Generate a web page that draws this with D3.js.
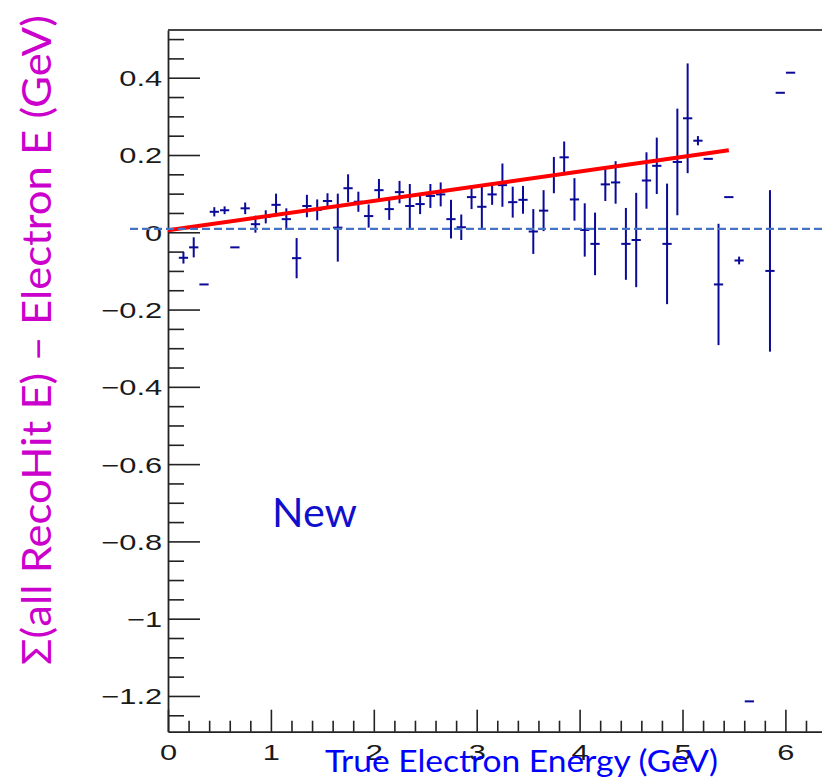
<!DOCTYPE html>
<html>
<head>
<meta charset="utf-8">
<script src="https://cdn.jsdelivr.net/npm/d3@7"></script>
<style>
  body { margin: 0; background: #fff; }
  svg { display: block; }
  .tickLabel { font-family: "Liberation Sans", Arial, sans-serif; font-size: 22px; fill: #1a1a1a; }
  .overlayText { font-family: Lato, "Open Sans", sans-serif; }
</style>
</head>
<body>
<div id="container"></div>
<script>
/* CONSTANTS AND GLOBALS */
const width = 822,
  height = 780,
  frame = { left: 168, top: 30, bottom: 731.7, right: 837 };

// profile bins (bin centre, mean, error on mean)
const binCenters = [0.15, 0.25, 0.35, 0.45, 0.55, 0.65, 0.75, 0.85, 0.95, 1.05,
  1.15, 1.25, 1.35, 1.45, 1.55, 1.65, 1.75, 1.85, 1.95, 2.05,
  2.15, 2.25, 2.35, 2.45, 2.55, 2.65, 2.75, 2.85, 2.95, 3.05,
  3.15, 3.25, 3.35, 3.45, 3.55, 3.65, 3.75, 3.85, 3.95, 4.05,
  4.15, 4.25, 4.35, 4.45, 4.55, 4.65, 4.75, 4.85, 4.95, 5.05,
  5.15, 5.25, 5.35, 5.45, 5.55, 5.65, 5.85, 5.95, 6.05]
const binMeans = [-0.066, -0.039, -0.135, 0.053, 0.057, -0.039, 0.062, 0.021, 0.040, 0.071,
  0.034, -0.067, 0.068, 0.058, 0.081, 0.012, 0.114, 0.079, 0.042, 0.109,
  0.060, 0.104, 0.068, 0.073, 0.094, 0.098, 0.034, 0.013, 0.091, 0.066,
  0.098, 0.122, 0.078, 0.084, 0.002, 0.056, 0.148, 0.194, 0.085, 0.006,
  -0.030, 0.124, 0.129, -0.030, -0.020, 0.134, 0.172, -0.030, 0.182, 0.295,
  0.237, 0.190, -0.135, 0.091, -0.073, -1.214, -0.100, 0.361, 0.413]
const binErrors = [0.015, 0.026, 0, 0.012, 0.010, 0, 0.015, 0.022, 0.017, 0.029,
  0.028, 0.052, 0.029, 0.027, 0.020, 0.088, 0.036, 0.026, 0.030, 0.029,
  0.028, 0.029, 0.057, 0.026, 0.031, 0.031, 0.050, 0.033, 0.031, 0.056,
  0.027, 0.056, 0.040, 0.036, 0.058, 0.053, 0.047, 0.041, 0.055, 0.069,
  0.081, 0.043, 0.055, 0.093, 0.122, 0.073, 0.073, 0.156, 0.138, 0.142,
  0.012, 0, 0.157, 0, 0.010, 0, 0.209, 0, 0]

// straight-line fit p0 + p1*x over its range
const fitParams = [0.005, 0.038]
const fitRange = [0, 5.45]

const xTicks = [0, 1, 2, 3, 4, 5, 6]
const yTicks = [-1.2, -1, -0.8, -0.6, -0.4, -0.2, 0, 0.2, 0.4]
const refLevel = 0.009 // dashed reference line drawn over the plot

const xTitle = "True Electron Energy (GeV)"
const yTitle = "Σ(all RecoHit E) – Electron E (GeV)"
const tag = "New"

const data = binCenters.map((x, i) => ({ x: x, mean: binMeans[i], err: binErrors[i] }))

const xScale = d3.scaleLinear()
  .domain([0, 6.5])
  .range([frame.left, frame.left + 6.5 * 102.9])

const yScale = d3.scaleLinear()
  .domain([-1.2925, 0.5235])
  .range([frame.bottom, frame.top])

const svg = d3.select("#container")
  .append("svg")
  .attr("width", width)
  .attr("height", height)

/* AXES (ticks point into the frame, ROOT style) */
const xMinor = d3.range(0, 33).map(i => +(i * 0.2).toFixed(1)).filter(v => v % 1 !== 0)
const yMinor = d3.range(-25, 11).map(i => +(i * 0.05).toFixed(2)).filter(v => Math.abs(v * 5 - Math.round(v * 5)) > 1e-6)

svg.append("g")
  .attr("transform", `translate(0, ${frame.bottom})`)
  .call(d3.axisBottom(xScale).tickValues(xMinor).tickSize(-11).tickSizeOuter(0).tickFormat(""))
  .call(g => g.select(".domain").remove())

const xAxisGroup = svg.append("g")
  .attr("transform", `translate(0, ${frame.bottom})`)
  .call(d3.axisBottom(xScale).tickValues(xTicks).tickSize(-22).tickSizeOuter(0).tickPadding(0).tickFormat(d3.format("~g")))

xAxisGroup.selectAll("text")
  .attr("class", "tickLabel")
  .attr("y", null).attr("dy", null)
  .attr("transform", "translate(0, 28) scale(1.4, 1)")
  .attr("font-family", null).attr("font-size", null)

svg.append("g")
  .attr("transform", `translate(${frame.left}, 0)`)
  .call(d3.axisLeft(yScale).tickValues(yMinor).tickSize(-16).tickSizeOuter(0).tickFormat(""))
  .call(g => g.select(".domain").remove())

const yAxisGroup = svg.append("g")
  .attr("transform", `translate(${frame.left}, 0)`)
  .call(d3.axisLeft(yScale).tickValues(yTicks).tickSize(-32).tickSizeOuter(0).tickPadding(4.2).tickFormat(d3.format("~g")))

yAxisGroup.selectAll("text")
  .attr("class", "tickLabel")
  .attr("dy", "0.36em")
  .attr("transform", "scale(1.4, 1)")
  .attr("font-family", null).attr("font-size", null)

svg.selectAll(".tick line").attr("stroke", "#222").attr("stroke-width", 1.6)
svg.selectAll(".domain").attr("stroke", "#222").attr("stroke-width", 1.8)

// top edge of the frame
svg.append("line")
  .attr("x1", frame.left).attr("x2", width)
  .attr("y1", frame.top).attr("y2", frame.top)
  .attr("stroke", "#444").attr("stroke-width", 1.8)

/* DATA: profile points */
const bins = svg.append("g").attr("stroke", "#0a0a99").attr("stroke-width", 2)

bins.selectAll("line.err")
  .data(data.filter(d => d.err > 0))
  .join("line")
  .attr("class", "err")
  .attr("x1", d => xScale(d.x)).attr("x2", d => xScale(d.x))
  .attr("y1", d => yScale(d.mean - d.err)).attr("y2", d => yScale(d.mean + d.err))

bins.selectAll("line.bar")
  .data(data)
  .join("line")
  .attr("class", "bar")
  .attr("x1", d => xScale(d.x - 0.045)).attr("x2", d => xScale(d.x + 0.045))
  .attr("y1", d => yScale(d.mean)).attr("y2", d => yScale(d.mean))

/* FIT */
const fitLine = d3.line()
  .x(d => xScale(d))
  .y(d => yScale(fitParams[0] + fitParams[1] * d))

svg.append("path")
  .datum(fitRange)
  .attr("d", fitLine)
  .attr("fill", "none")
  .attr("stroke", "#ff0000")
  .attr("stroke-width", 4)

/* OVERLAYS */
svg.append("line")
  .attr("x1", 130).attr("x2", width)
  .attr("y1", yScale(refLevel)).attr("y2", yScale(refLevel))
  .attr("stroke", "#4472c4")
  .attr("stroke-width", 2.2)
  .attr("stroke-dasharray", "8,4")

svg.append("text")
  .attr("class", "overlayText")
  .attr("x", 325).attr("y", 772)
  .attr("font-size", 30)
  .attr("textLength", 393).attr("lengthAdjust", "spacingAndGlyphs")
  .attr("fill", "#0000ff")
  .text(xTitle)

svg.append("text")
  .attr("class", "overlayText")
  .attr("transform", `translate(51, 665) rotate(-90)`)
  .attr("font-size", 40)
  .attr("textLength", 650).attr("lengthAdjust", "spacingAndGlyphs")
  .attr("fill", "#cc00cc")
  .text(yTitle)

svg.append("text")
  .attr("class", "overlayText")
  .attr("x", 272).attr("y", 527)
  .attr("font-size", 41)
  .attr("textLength", 85).attr("lengthAdjust", "spacingAndGlyphs")
  .attr("fill", "#1010cc")
  .text(tag)
</script>
</body>
</html>
